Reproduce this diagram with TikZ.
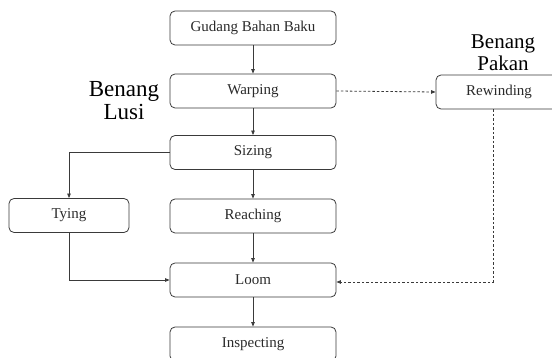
\documentclass[tikz,border=0pt]{standalone}
\usepackage{fontspec}
\setmainfont{Liberation Serif}
\usetikzlibrary{arrows.meta,calc}
\definecolor{linegray}{HTML}{3A3A3A}
\definecolor{textgray}{HTML}{2A2A2A}
\tikzset{
  procbox/.style={draw=linegray, line width=0.8pt, rounded corners=5pt, minimum height=34pt, inner sep=0pt, font=\fontsize{15}{18}\selectfont, text=textgray},
  mainbox/.style={procbox, minimum width=166pt},
  sidebox/.style={procbox, minimum width=120pt},
  flow/.style={draw=linegray, line width=0.8pt, -{Triangle[length=4.5pt,width=3.5pt]}},
  dflow/.style={flow, dash pattern=on 2.5pt off 2pt},
  biglabel/.style={align=center, font=\fontsize{21}{22}\selectfont, text=black, inner sep=0pt}
}
\begin{document}
\begin{tikzpicture}[x=1pt,y=-1pt]
\useasboundingbox (0,0) rectangle (552,358);
\begin{scope}
\clip (0,0) rectangle (552,358);
\node[mainbox] (gudang) at (253,28) {Gudang Bahan Baku};
\node[mainbox] (warping) at (253,91) {Warping};
\node[mainbox] (sizing) at (253,152.5) {Sizing};
\node[mainbox] (reaching) at (253,216) {Reaching};
\node[mainbox] (loom) at (253,280) {Loom};
\node[mainbox] (inspect) at (253,344) {Inspecting};
\node[sidebox] (tying) at (69,215.5) {Tying};
\node[procbox, minimum width=126pt] (rewind) at (499,92) {Rewinding};

\node[biglabel, font=\fontsize{23}{23}\selectfont] (lusi) at (124,101) {Benang\\Lusi};
\node[biglabel] (pakan) at (503,53) {Benang\\Pakan};

\draw[flow] (gudang) -- (warping);
\draw[flow] (warping) -- (sizing);
\draw[flow] (sizing) -- (reaching);
\draw[flow] (reaching) -- (loom);
\draw[flow] (loom) -- (inspect);
\draw[flow] (sizing.west) -| (tying.north);
\draw[flow] (tying.south) |- (loom.west);
\draw[dflow] (warping.east) -- (rewind.west);
\coordinate (rw) at ($(rewind.south)+(-6,0)$);
\draw[dflow] (rw) |- ($(loom.east)+(0,2)$);
\end{scope}
\end{tikzpicture}
\end{document}
